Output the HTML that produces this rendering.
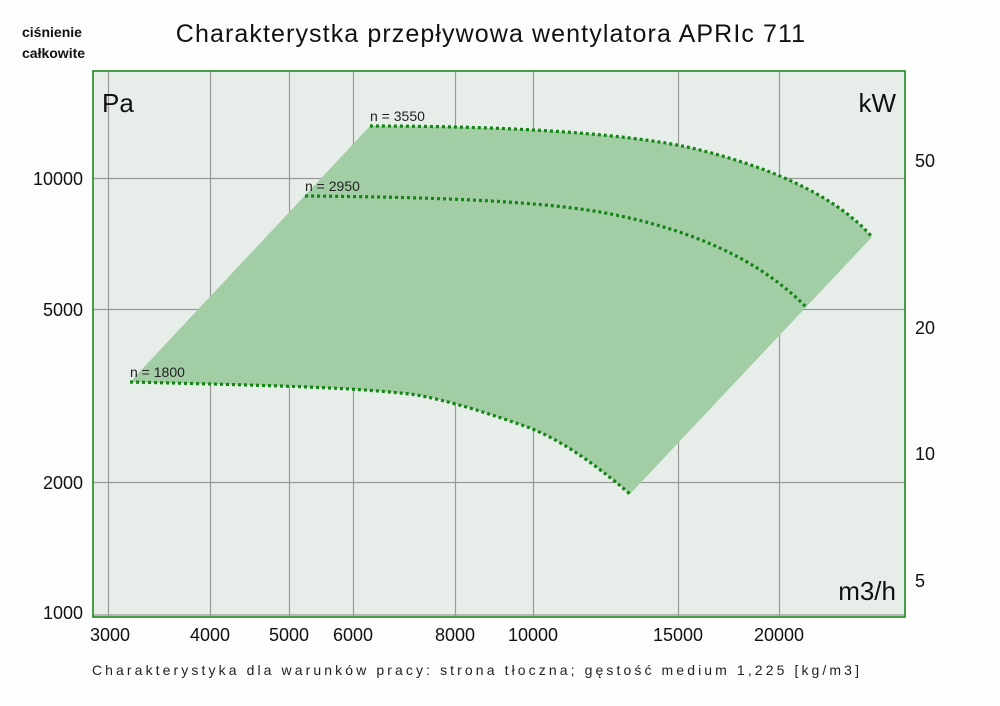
<!DOCTYPE html>
<html><head><meta charset="utf-8"><style>
body{margin:0;background:#fdfdfd;}
svg{display:block;font-family:"Liberation Sans","DejaVu Sans",sans-serif;}
</style></head><body>
<svg width="1000" height="706" viewBox="0 0 1000 706">
<rect width="1000" height="706" fill="#fdfdfd"/>
<text x="22" y="37" font-size="14" font-weight="bold" fill="#111">ciśnienie</text>
<text x="22" y="58" font-size="14" font-weight="bold" fill="#111">całkowite</text>
<text x="491" y="42" font-size="25" text-anchor="middle" fill="#111" letter-spacing="1.1">Charakterystka przepływowa wentylatora APRIc 711</text>
<rect x="93" y="71" width="812" height="546" fill="#e7eeea"/>
<g stroke="#999" stroke-width="1.2">
<line x1="108.5" y1="71" x2="108.5" y2="617"/><line x1="210.5" y1="71" x2="210.5" y2="617"/>
<line x1="289.5" y1="71" x2="289.5" y2="617"/><line x1="353.5" y1="71" x2="353.5" y2="617"/>
<line x1="455.5" y1="71" x2="455.5" y2="617"/><line x1="533.5" y1="71" x2="533.5" y2="617"/>
<line x1="678.5" y1="71" x2="678.5" y2="617"/><line x1="779.5" y1="71" x2="779.5" y2="617"/>
<line x1="93" y1="178.5" x2="905" y2="178.5"/><line x1="93" y1="309.5" x2="905" y2="309.5"/>
<line x1="93" y1="482.5" x2="905" y2="482.5"/><line x1="93" y1="615" x2="905" y2="615"/>
</g>
<path d="M130,382 L370,126 C470,126 620,130 700,150 C780,170 840,200 872,237 L630,494 C590,460 560,440 530,428 C480,410 430,395 400,393 C350,388 300,386 130,382 Z" fill="#a2cda5"/>
<g fill="none" stroke="#138513" stroke-width="3.2" stroke-dasharray="3,3">
<path d="M370,126 C470,126 620,130 700,150 C780,170 840,200 872,237"/>
<path d="M305,196 C420,197 530,200 600,212 C690,228 760,260 806,307"/>
<path d="M130,382 C300,386 350,388 400,393 C430,395 480,410 530,428 C560,440 590,460 630,494"/>
</g>
<rect x="93" y="71" width="812" height="546" fill="none" stroke="#1a8a1a" stroke-width="1.6"/>
<text x="102" y="112" font-size="26" fill="#111">Pa</text>
<text x="896" y="112" font-size="26" fill="#111" text-anchor="end">kW</text>
<text x="896" y="600" font-size="26" fill="#111" text-anchor="end">m3/h</text>
<g font-size="14" fill="#222">
<text x="370" y="121">n = 3550</text>
<text x="305" y="191">n = 2950</text>
<text x="130" y="377">n = 1800</text>
</g>
<g font-size="18" fill="#111" text-anchor="end">
<text x="83" y="185">10000</text><text x="83" y="316">5000</text>
<text x="83" y="489">2000</text><text x="83" y="619">1000</text>
</g>
<g font-size="18" fill="#111">
<text x="915" y="167">50</text><text x="915" y="334">20</text>
<text x="915" y="460">10</text><text x="915" y="587">5</text>
</g>
<g font-size="18" fill="#111" text-anchor="middle">
<text x="110" y="641">3000</text><text x="210" y="641">4000</text>
<text x="289" y="641">5000</text><text x="353" y="641">6000</text>
<text x="455" y="641">8000</text><text x="533" y="641">10000</text>
<text x="678" y="641">15000</text><text x="779" y="641">20000</text>
</g>
<text x="477" y="675" font-size="14" fill="#222" text-anchor="middle" letter-spacing="3.1">Charakterystyka dla warunków pracy: strona tłoczna; gęstość medium 1,225 [kg/m3]</text>
</svg>
</body></html>
